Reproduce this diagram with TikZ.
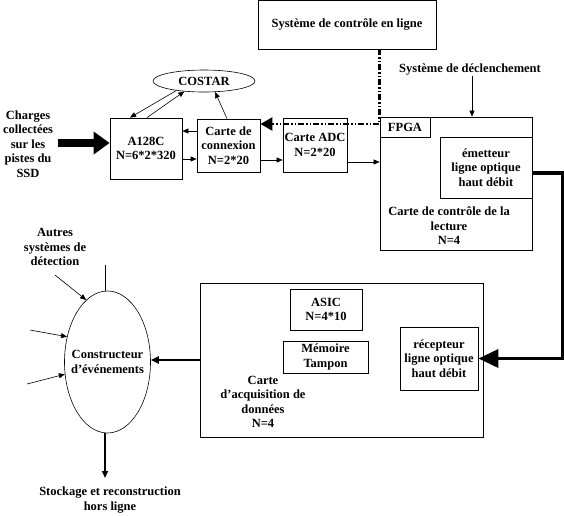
\documentclass[tikz,border=0pt]{standalone}
\usepackage{fontspec}
\setmainfont{Liberation Serif}
\usetikzlibrary{arrows.meta,shapes.geometric}
\begin{document}
\begin{tikzpicture}[x=1pt,y=-1pt,
every node/.style={font=\fontsize{12.5}{14.5}\selectfont\bfseries, align=center, inner sep=0pt},
box/.style={draw, line width=0.8pt},
arr/.style={line width=0.6pt, -{Triangle[length=6pt,width=5pt]}},
bigarr/.style={line width=8pt, -{Triangle[length=16pt,width=22pt]}},
optarr/.style={line width=3.5pt, -{Triangle[length=20pt,width=18pt]}},
ctlarr/.style={line width=2.5pt, dash pattern=on 6pt off 2pt on 1.5pt off 2pt on 1.5pt off 2pt, -{Triangle[length=12pt,width=13pt]}},
medarr/.style={line width=2pt, -{Triangle[length=8pt,width=7pt]}},
outarr/.style={line width=2.5pt, -{Triangle[length=7pt,width=6pt]}}]
\useasboundingbox (0,0) rectangle (564,515);
\node[box, minimum width=178pt, minimum height=49pt] (ctrl) at (347,24.5){Système de contrôle en ligne};
\node (decl) at (470,70){Système de déclenchement};
\node (charges) at (28,144){Charges\\collectées\\sur les\\pistes du\\SSD};
\node[box, minimum width=72pt, minimum height=61pt] (a128c) at (146,148.5){A128C\\N=6*2*320};
\node[draw, ellipse, line width=0.6pt, minimum width=102pt, minimum height=22pt] (costar) at (204,81){COSTAR};
\node[box, minimum width=63pt, minimum height=53pt] (conn) at (228.5,145.5){Carte de\\connexion\\N=2*20};
\node[box, minimum width=64pt, minimum height=54pt] (adc) at (315,145){Carte ADC\\N=2*20};
\node[box, minimum width=152pt, minimum height=133pt] (lect) at (456,183.5){};
\node[box, minimum width=50pt, minimum height=20pt] (fpga) at (405,127){FPGA};
\node[box, minimum width=92pt, minimum height=61pt] (emet) at (486,167.5){émetteur\\ligne optique\\haut débit};
\node (lectlbl) at (449,226){Carte de contrôle de la\\lecture\\N=4};
\node[box, minimum width=283pt, minimum height=154pt] (acq) at (341.5,360){};
\node[box, minimum width=72pt, minimum height=41pt] (asic) at (326,309.5){ASIC\\N=4*10};
\node[box, minimum width=85pt, minimum height=32pt] (mem) at (325.5,357){Mémoire\\Tampon};
\node[box, minimum width=78pt, minimum height=63pt] (recep) at (439,358.5){récepteur\\ligne optique\\haut débit};
\node (acqlbl) at (263,402){Carte\\d'acquisition de\\données\\N=4};
\node[draw, ellipse, line width=0.6pt, minimum width=86pt, minimum height=142pt] (cons) at (107.5,362){};
\node (conslbl) at (cons.center){Constructeur\\d'événements};
\node (autres) at (55,247){Autres\\systèmes de\\détection};
\node (stock) at (110,500){Stockage et reconstruction\\hors ligne};
\coordinate (chgin) at (58,143);
\coordinate (rt) at (563,0);
\coordinate (o1) at (55,275);
\coordinate (o2) at (30,330);
\coordinate (o3) at (27,384);
\coordinate (vtop) at (105,265);
\coordinate (stk) at (105,478);
\draw[bigarr](chgin) -- (chgin -| a128c.west);
\draw[arr](costar.199) -- ([xshift=-16pt]a128c.north);
\draw[arr]([xshift=1pt]a128c.north) -- (costar.208);
\draw[arr]([xshift=-1.5pt]conn.north) -- (costar.-45);
\draw[arr]([yshift=14.5pt]conn.west) -- ([yshift=14.5pt]conn.west -| a128c.east);
\draw[arr]([yshift=-13.5pt]conn.west -| a128c.east) -- ([yshift=-13.5pt]conn.west);
\draw[arr]([yshift=-14.5pt]conn.east) -- ([yshift=-14.5pt]conn.east -| adc.west);
\draw[arr]([yshift=-17pt]adc.east) -- ([yshift=-17pt]adc.east -| lect.west);
\draw[ctlarr](ctrl.south -| lect.west) |- ([yshift=21.5pt]conn.east);
\draw[arr]([xshift=2pt]decl.south) -- ([xshift=2pt]decl.south |- lect.north);
\draw[optarr]([yshift=-5.5pt]emet.east) -- ([yshift=-5.5pt]emet.east -| rt) |- (recep.east);
\draw[medarr](acq.west) -- (acq.west -| cons.east);
\draw[outarr](cons.south -| stk) -- (stk);
\draw[line width=0.6pt](vtop) -- (vtop |- cons.north);
\draw[arr](o1) -- (cons.109);
\draw[arr](o2) -- (cons.148);
\draw[arr](o3) -- (cons.196);
\end{tikzpicture}
\end{document}
